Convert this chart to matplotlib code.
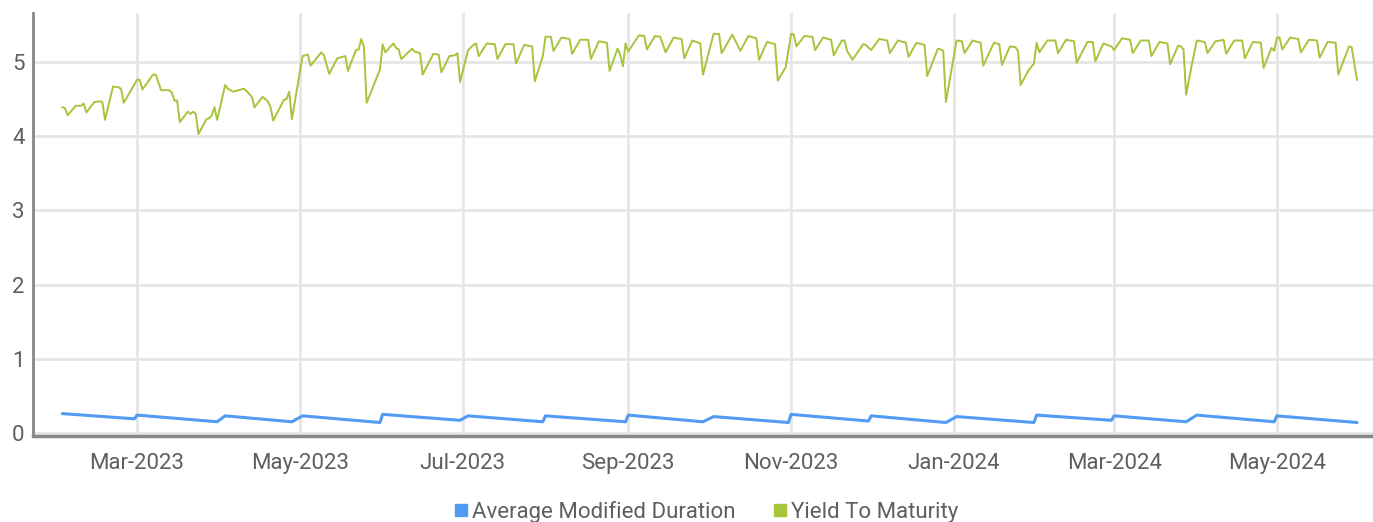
import numpy as np
import pandas as pd
import matplotlib
matplotlib.use("Agg")
import matplotlib.pyplot as plt
import matplotlib.dates as mdates
from matplotlib.lines import Line2D

# yield to maturity (date, %)
ytm_dates = [
    "2023-02-01", "2023-02-02", "2023-02-03", "2023-02-06", "2023-02-08", "2023-02-09", "2023-02-10", "2023-02-13",
    "2023-02-15", "2023-02-16", "2023-02-17", "2023-02-20", "2023-02-22", "2023-02-23", "2023-02-24",
    "2023-03-01", "2023-03-02", "2023-03-03", "2023-03-07", "2023-03-08", "2023-03-10", "2023-03-13", "2023-03-14",
    "2023-03-15", "2023-03-16", "2023-03-17", "2023-03-20", "2023-03-21", "2023-03-22", "2023-03-23", "2023-03-24",
    "2023-03-27", "2023-03-28", "2023-03-29", "2023-03-30", "2023-03-31",
    "2023-04-03", "2023-04-04", "2023-04-06", "2023-04-10", "2023-04-11", "2023-04-13", "2023-04-14", "2023-04-17",
    "2023-04-19", "2023-04-20", "2023-04-21", "2023-04-25", "2023-04-26", "2023-04-27", "2023-04-28",
    "2023-05-02", "2023-05-04", "2023-05-05", "2023-05-09", "2023-05-10", "2023-05-12", "2023-05-15", "2023-05-18",
    "2023-05-19", "2023-05-22", "2023-05-23", "2023-05-24", "2023-05-25", "2023-05-26", "2023-05-31",
    "2023-06-01", "2023-06-02", "2023-06-05", "2023-06-06", "2023-06-07", "2023-06-08", "2023-06-12", "2023-06-13",
    "2023-06-15", "2023-06-16", "2023-06-20", "2023-06-22", "2023-06-23", "2023-06-26", "2023-06-28", "2023-06-29",
    "2023-06-30",
    "2023-07-03", "2023-07-05", "2023-07-06", "2023-07-07", "2023-07-10", "2023-07-13", "2023-07-14", "2023-07-17",
    "2023-07-20", "2023-07-21", "2023-07-24", "2023-07-27", "2023-07-28", "2023-07-31",
    "2023-08-01", "2023-08-03", "2023-08-04", "2023-08-07", "2023-08-10", "2023-08-11", "2023-08-14", "2023-08-17",
    "2023-08-18", "2023-08-21", "2023-08-24", "2023-08-25", "2023-08-28", "2023-08-29", "2023-08-30", "2023-08-31",
    "2023-09-01", "2023-09-05", "2023-09-07", "2023-09-08", "2023-09-11", "2023-09-13", "2023-09-15", "2023-09-18",
    "2023-09-21", "2023-09-22", "2023-09-25", "2023-09-28", "2023-09-29",
    "2023-10-03", "2023-10-05", "2023-10-06", "2023-10-10", "2023-10-13", "2023-10-16", "2023-10-19", "2023-10-20",
    "2023-10-23", "2023-10-26", "2023-10-27", "2023-10-30",
    "2023-11-01", "2023-11-02", "2023-11-03", "2023-11-06", "2023-11-09", "2023-11-10", "2023-11-13", "2023-11-16",
    "2023-11-17", "2023-11-20", "2023-11-21", "2023-11-22", "2023-11-24", "2023-11-28", "2023-11-29",
    "2023-12-01", "2023-12-04", "2023-12-07", "2023-12-08", "2023-12-11", "2023-12-14", "2023-12-15", "2023-12-18",
    "2023-12-21", "2023-12-22", "2023-12-26", "2023-12-27", "2023-12-28", "2023-12-29",
    "2024-01-02", "2024-01-04", "2024-01-05", "2024-01-08", "2024-01-11", "2024-01-12", "2024-01-16", "2024-01-18",
    "2024-01-19", "2024-01-22", "2024-01-24", "2024-01-25", "2024-01-26", "2024-01-29", "2024-01-31",
    "2024-02-01", "2024-02-02", "2024-02-05", "2024-02-08", "2024-02-09", "2024-02-12", "2024-02-15", "2024-02-16",
    "2024-02-20", "2024-02-22", "2024-02-23", "2024-02-26", "2024-02-29",
    "2024-03-01", "2024-03-04", "2024-03-07", "2024-03-08", "2024-03-11", "2024-03-14", "2024-03-15", "2024-03-18",
    "2024-03-21", "2024-03-22", "2024-03-25", "2024-03-26", "2024-03-27", "2024-03-28", "2024-03-30",
    "2024-04-01", "2024-04-04", "2024-04-05", "2024-04-08", "2024-04-10", "2024-04-11", "2024-04-12", "2024-04-15",
    "2024-04-18", "2024-04-19", "2024-04-22", "2024-04-25", "2024-04-26", "2024-04-29", "2024-04-30",
    "2024-05-01", "2024-05-02", "2024-05-03", "2024-05-06", "2024-05-09", "2024-05-10", "2024-05-13", "2024-05-16",
    "2024-05-17", "2024-05-20", "2024-05-23", "2024-05-24", "2024-05-28", "2024-05-29", "2024-05-31",
]
ytm_values = [
    4.39, 4.38, 4.28, 4.41, 4.41, 4.44, 4.32, 4.46, 4.47, 4.46, 4.22, 4.67, 4.66, 4.64, 4.45,
    4.76, 4.76, 4.63, 4.83, 4.83, 4.62, 4.62, 4.59, 4.48, 4.48, 4.19, 4.33, 4.30, 4.33, 4.30, 4.03,
    4.23, 4.24, 4.28, 4.39, 4.22,
    4.69, 4.64, 4.60, 4.64, 4.61, 4.53, 4.39, 4.53, 4.47, 4.39, 4.21, 4.49, 4.50, 4.60, 4.23,
    5.08, 5.10, 4.95, 5.13, 5.09, 4.84, 5.05, 5.08, 4.88, 5.16, 5.17, 5.31, 5.20, 4.45, 4.90,
    5.24, 5.13, 5.25, 5.19, 5.17, 5.04, 5.18, 5.14, 5.12, 4.83, 5.11, 5.10, 4.86, 5.08, 5.09, 5.12,
    4.73,
    5.16, 5.23, 5.25, 5.08, 5.25, 5.24, 5.04, 5.24, 5.24, 4.98, 5.23, 5.21, 4.74, 5.08,
    5.34, 5.34, 5.15, 5.33, 5.31, 5.11, 5.30, 5.30, 5.04, 5.28, 5.26, 4.88, 5.18, 5.10, 4.94, 5.25,
    5.14, 5.36, 5.35, 5.17, 5.35, 5.34, 5.13, 5.33, 5.31, 5.05, 5.29, 5.25, 4.83,
    5.38, 5.38, 5.12, 5.37, 5.15, 5.35, 5.32, 5.03, 5.27, 5.24, 4.75, 4.93,
    5.38, 5.37, 5.21, 5.35, 5.34, 5.16, 5.33, 5.30, 5.09, 5.29, 5.29, 5.15, 5.03, 5.24, 5.23,
    5.16, 5.31, 5.29, 5.12, 5.29, 5.26, 5.07, 5.26, 5.23, 4.81, 5.18, 5.17, 5.15, 4.46,
    5.29, 5.28, 5.12, 5.29, 5.26, 4.95, 5.26, 5.24, 4.96, 5.21, 5.20, 5.15, 4.69, 4.89, 4.98,
    5.26, 5.13, 5.29, 5.29, 5.12, 5.30, 5.28, 4.99, 5.27, 5.27, 5.01, 5.25, 5.21,
    5.16, 5.32, 5.30, 5.12, 5.29, 5.29, 5.08, 5.27, 5.25, 4.97, 5.22, 5.21, 5.17, 4.56, 4.94,
    5.29, 5.27, 5.12, 5.28, 5.29, 5.30, 5.11, 5.29, 5.29, 5.05, 5.27, 5.26, 4.92, 5.19, 5.15,
    5.33, 5.33, 5.17, 5.33, 5.31, 5.13, 5.30, 5.29, 5.06, 5.27, 5.26, 4.83, 5.21, 5.20, 4.76,
]

# average modified duration: high at the start of each month, low at month end
amd_dates = [
    "2023-02-01", "2023-02-28", "2023-03-01", "2023-03-31", "2023-04-03", "2023-04-28",
    "2023-05-02", "2023-05-31", "2023-06-01", "2023-06-30", "2023-07-03", "2023-07-31",
    "2023-08-01", "2023-08-31", "2023-09-01", "2023-09-29", "2023-10-03", "2023-10-31",
    "2023-11-01", "2023-11-30", "2023-12-01", "2023-12-29", "2024-01-02", "2024-01-31",
    "2024-02-01", "2024-02-29", "2024-03-01", "2024-03-28", "2024-04-01", "2024-04-30",
    "2024-05-01", "2024-05-31",
]
amd_values = [
    0.26, 0.19, 0.24, 0.15, 0.23, 0.15,
    0.23, 0.14, 0.25, 0.17, 0.23, 0.15,
    0.23, 0.15, 0.24, 0.15, 0.22, 0.14,
    0.25, 0.16, 0.23, 0.14, 0.22, 0.14,
    0.24, 0.17, 0.23, 0.15, 0.24, 0.15,
    0.23, 0.14,
]

tick_dates = ["2023-03-01", "2023-05-01", "2023-07-01", "2023-09-01", "2023-11-01",
              "2024-01-01", "2024-03-01", "2024-05-01"]

BLUE = "#519bf5"
GREEN = "#a6c43c"
TXT = "#5f5f5f"
GRID = "#e6e6e6"

plt.rcParams['font.family'] = ['Roboto', 'DejaVu Sans']

fig = plt.figure(figsize=(13.73, 5.22), dpi=100)
ax = fig.add_axes([0.024, 0.165, 0.976, 0.81])

ax.plot(pd.to_datetime(amd_dates), amd_values, color=BLUE, lw=2.2, solid_capstyle='round')
ax.plot(pd.to_datetime(ytm_dates), ytm_values, color=GREEN, lw=1.4)

ax.set_xlim(pd.Timestamp("2023-01-21"), pd.Timestamp("2024-06-06"))
ax.set_ylim(-0.04, 5.66)
ax.set_yticks([0, 1, 2, 3, 4, 5])
ax.set_xticks(pd.to_datetime(tick_dates))
ax.xaxis.set_major_formatter(mdates.DateFormatter("%b-%Y"))

ax.grid(True, color=GRID, lw=2)
ax.set_axisbelow(True)
ax.tick_params(length=0, labelsize=16, colors=TXT)
ax.tick_params(axis='x', pad=12)
ax.tick_params(axis='y', pad=6)
for s in ['top', 'right']:
    ax.spines[s].set_visible(False)
ax.spines['left'].set_color('#888888')
ax.spines['left'].set_linewidth(2)
ax.spines['bottom'].set_color('#888888')
ax.spines['bottom'].set_linewidth(2.5)

handles = [Line2D([], [], marker='s', ls='none', color=BLUE, markersize=8),
           Line2D([], [], marker='s', ls='none', color=GREEN, markersize=8)]
fig.legend(handles, ["Average Modified Duration", "Yield To Maturity"], loc='center',
           bbox_to_anchor=(0.513, 0.02), ncol=2, frameon=False, fontsize=16,
           labelcolor=TXT, handletextpad=0.0, columnspacing=1.5, handlelength=1.0)

fig.savefig("out.png", dpi=100)
